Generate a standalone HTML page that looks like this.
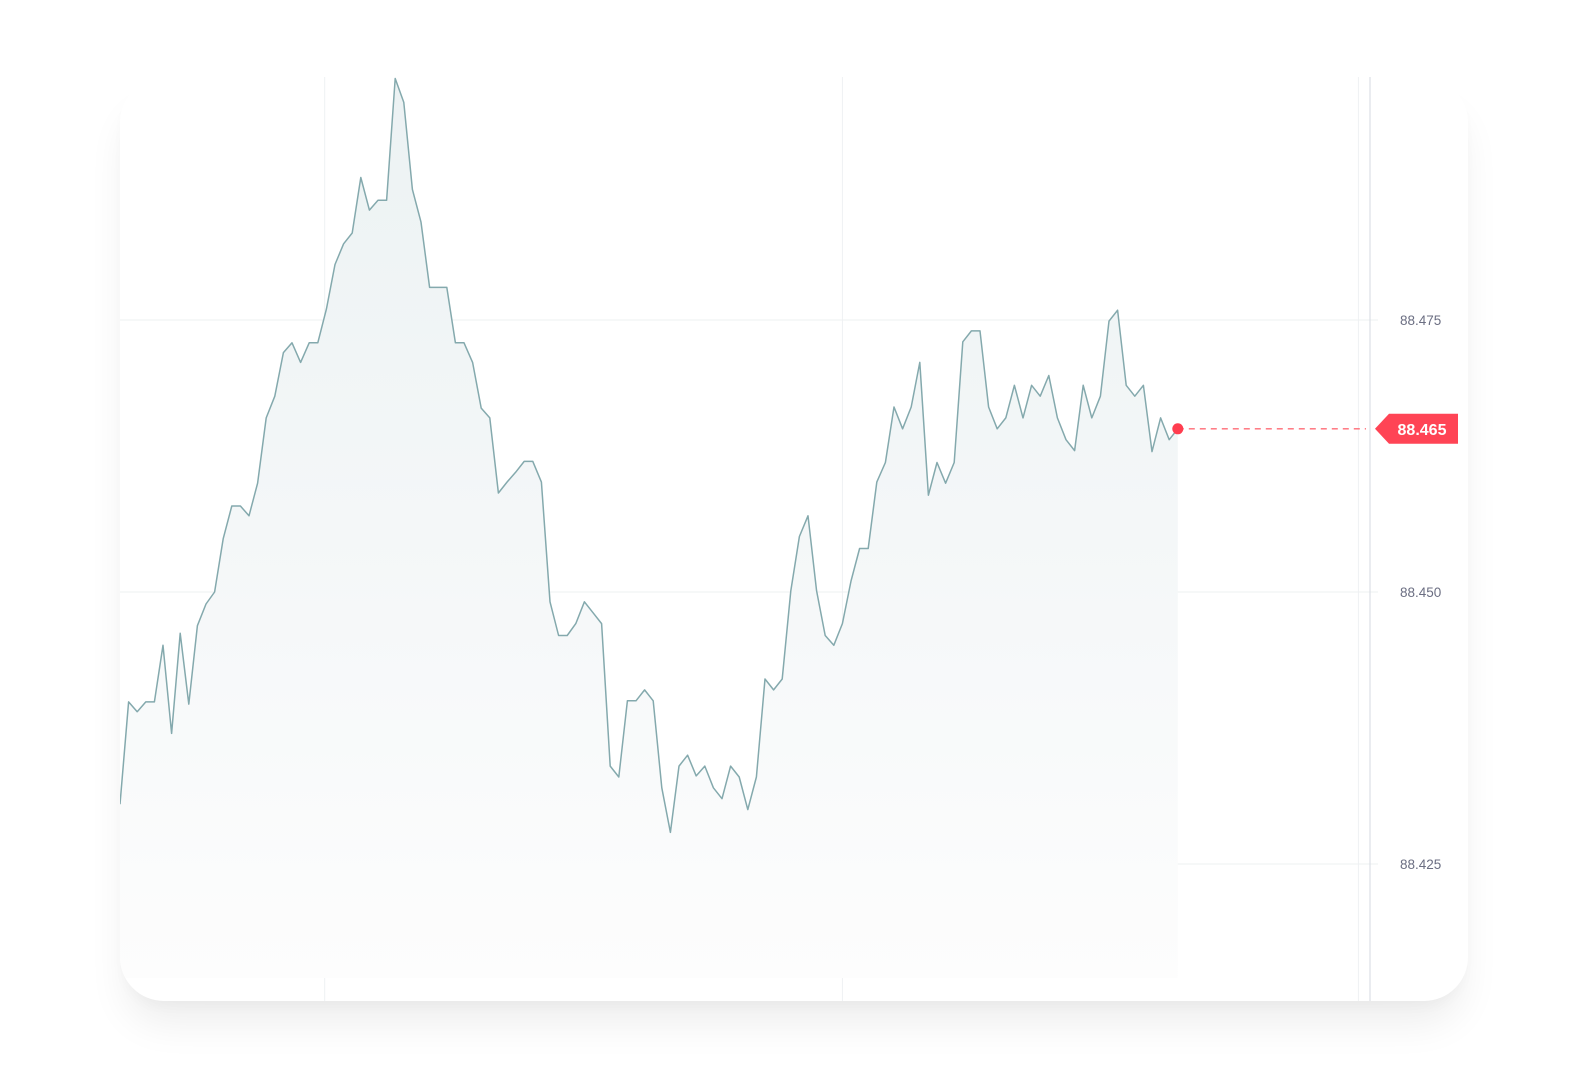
<!DOCTYPE html>
<html><head><meta charset="utf-8"><style>
html,body{margin:0;padding:0;background:#fff;width:1590px;height:1080px;overflow:hidden;font-family:"Liberation Sans",sans-serif}
#card{position:absolute;left:120px;top:78px;width:1348px;height:923px;border-radius:44px;background:#fff;box-shadow:0 28px 40px -6px rgba(0,0,0,0.07),0 8px 14px -4px rgba(0,0,0,0.03)}
svg{position:absolute;left:0;top:0}
</style></head><body>
<div id="card"></div>
<svg id="chart" width="1590" height="1080">
<defs><linearGradient id="fillg" x1="0" y1="0" x2="0" y2="1"><stop offset="0" stop-color="#ecf2f3"/><stop offset="0.5" stop-color="#f4f7f8"/><stop offset="1" stop-color="#fdfdfd"/></linearGradient>
<clipPath id="cardclip"><rect x="120" y="60" width="1348" height="941" rx="44"/></clipPath></defs>
</svg>
<script>
const prices=[88.4305,88.4399,88.4390,88.4399,88.4399,88.4451,88.4370,88.4462,88.4397,88.4469,
88.4489,88.4500,88.4549,88.4579,88.4579,88.4570,88.4600,88.4660,88.4680,88.4720,
88.4729,88.4711,88.4729,88.4729,88.4760,88.4801,88.4820,88.4830,88.4881,88.4851,
88.4860,88.4860,88.4972,88.4950,88.4870,88.4840,88.4780,88.4780,88.4780,88.4729,
88.4729,88.4711,88.4669,88.4660,88.4591,88.4601,88.4610,88.4620,88.4620,88.4601,
88.4491,88.4460,88.4460,88.4471,88.4491,88.4481,88.4471,88.4340,88.4330,88.4400,
88.4400,88.4410,88.4400,88.4320,88.4279,88.4340,88.4350,88.4331,88.4340,88.4320,
88.4310,88.4340,88.4330,88.4300,88.4330,88.4420,88.4410,88.4420,88.4501,88.4551,
88.4570,88.4501,88.4460,88.4451,88.4471,88.4510,88.4540,88.4540,88.4601,88.4619,
88.4670,88.4650,88.4670,88.4711,88.4589,88.4619,88.4600,88.4619,88.4730,88.4740,
88.4740,88.4670,88.4650,88.4660,88.4690,88.4660,88.4690,88.4680,88.4699,88.4660,
88.4640,88.4630,88.4690,88.4660,88.4680,88.4749,88.4759,88.4690,88.4680,88.4690,
88.4629,88.4660,88.4640,88.4650];
const yTicks=[88.475,88.450,88.425];
const yTickLabels=["88.475","88.450","88.425"];
const vGridIdx=[23.8,84,144];
const lastLabel="88.465";

const NS="http://www.w3.org/2000/svg";
const svg=document.getElementById('chart');
const X0=120,STEP=8.6;
function xPos(i){return X0+i*STEP;}
function yPos(v){return 320+(88.475-v)*10880;}
function mk(tag,attrs,parent){const e=document.createElementNS(NS,tag);for(const k in attrs)e.setAttribute(k,attrs[k]);(parent||svg).appendChild(e);return e;}
const g=mk('g',{'clip-path':'url(#cardclip)'});
vGridIdx.forEach(i=>{const l=mk('line',{x1:xPos(i),x2:xPos(i),y1:77,y2:1001,stroke:'#eef1f3','stroke-width':1},g);

});
yTicks.forEach((v,k)=>{const l=mk('line',{x1:120,x2:1378,y1:yPos(v),y2:yPos(v),stroke:'#eef0f2','stroke-width':1},g);


const t=mk('text',{x:1400,y:yPos(v)+5,'font-size':13.5,fill:'#6b6e82','font-family':'Liberation Sans, sans-serif'});
t.textContent=yTickLabels[k];

});
const ax=mk('line',{x1:1370,x2:1370,y1:77,y2:1001,stroke:'#dcdfe5','stroke-width':1.2});


let d='';prices.forEach((v,i)=>{d+=(i?'L':'M')+xPos(i).toFixed(1)+' '+yPos(v).toFixed(1);});
const last=prices.length-1;
const area=mk('path',{d:d+'L'+xPos(last)+' 978L'+xPos(0)+' 978Z',fill:'url(#fillg)'},g);


const line=mk('path',{d:d,fill:'none',stroke:'#84a9ad','stroke-width':1.5,'stroke-linejoin':'round'},g);


const ly=yPos(prices[last]);
const dash=mk('line',{x1:xPos(last),x2:1366,y1:ly,y2:ly,stroke:'#ff6b75','stroke-width':1.3,'stroke-dasharray':'6 5'});


const dot=mk('circle',{cx:xPos(last),cy:ly,r:5.5,fill:'#ff3d4f'});


const tag=mk('path',{d:`M1375 ${ly}L1389 ${ly-15}L1458 ${ly-15}L1458 ${ly+15}L1389 ${ly+15}Z`,fill:'#ff4455'});


const tt=mk('text',{x:1422,y:ly+6,'font-size':16,'font-weight':'bold',fill:'#fff','text-anchor':'middle','font-family':'Liberation Sans, sans-serif'});
tt.textContent=lastLabel;


</script>
</body></html>
